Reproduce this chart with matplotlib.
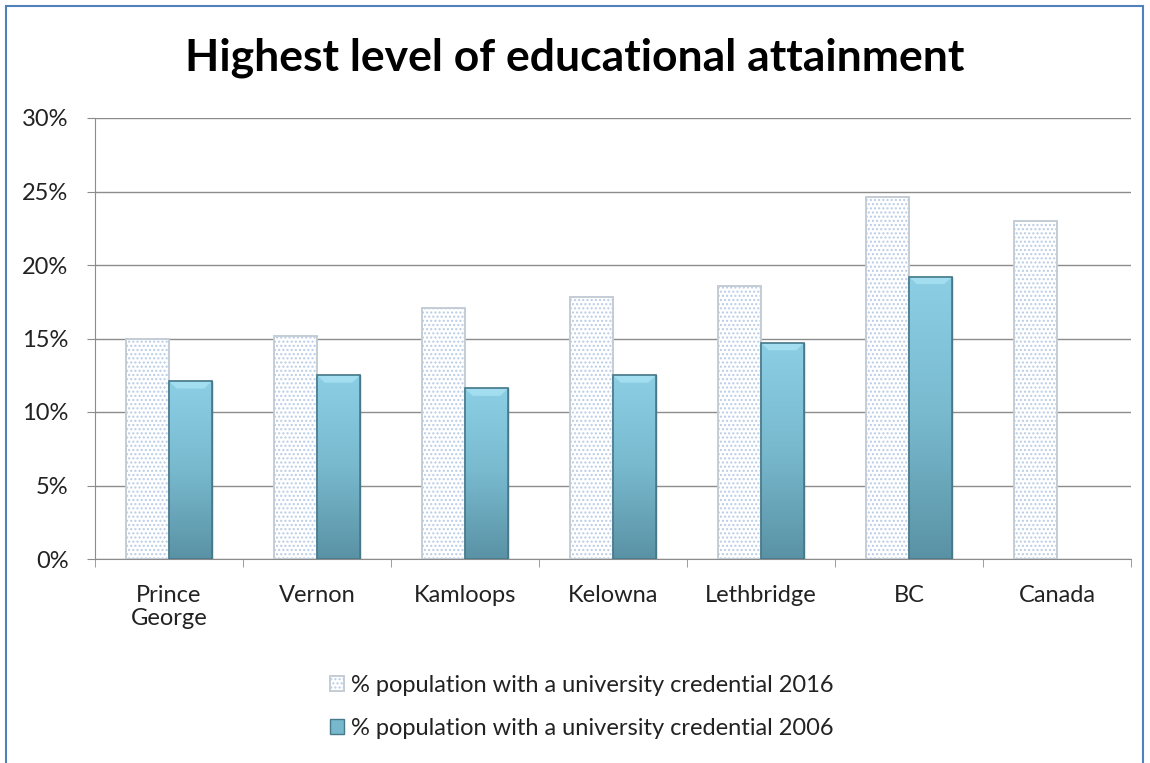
import numpy as np
import matplotlib.pyplot as plt
from matplotlib.patches import Rectangle
from matplotlib.colors import LinearSegmentedColormap

plt.rcParams['font.family'] = ['Lato', 'DejaVu Sans']

cities = ["Prince\nGeorge", "Vernon", "Kamloops", "Kelowna", "Lethbridge", "BC", "Canada"]
uni_2016 = [15.0, 15.2, 17.1, 17.8, 18.6, 24.6, 23.0]
uni_2006 = [12.1, 12.5, 11.6, 12.5, 14.7, 19.2, np.nan]
yticks = [0, 5, 10, 15, 20, 25, 30]

fig = plt.figure(figsize=(11.5, 7.63), dpi=100)
ax = fig.add_axes([95 / 1150, 1 - 559 / 763, 1036 / 1150, 441 / 763])

x = np.arange(len(cities))
w = 0.29

b16 = ax.bar(x - w / 2, uni_2016, w, color="white", edgecolor="#c4ccd6",
             hatch="....", linewidth=1.4, zorder=3,
             label="% population with a university credential 2016")
for b in b16:
    b._hatch_color = (0.72, 0.8, 0.9, 1.0)

b06 = ax.bar(x + w / 2, uni_2006, w, color="#78b8cc", edgecolor="#47798a",
             linewidth=1.0, zorder=3,
             label="% population with a university credential 2006")

# vertical gradient on the 2006 bars
cmap = LinearSegmentedColormap.from_list("g", ["#5a92a5", "#78b9ce", "#8ccfe5"])
grad = np.linspace(0, 1, 256).reshape(-1, 1)
for b in b06:
    h = b.get_height()
    if not np.isfinite(h) or h <= 0:
        continue
    x0 = b.get_x()
    bw = b.get_width()
    im = ax.imshow(grad, cmap=cmap, aspect="auto", origin="lower",
                   extent=[x0, x0 + bw, 0, h], zorder=3.5)
    im.set_clip_path(b)
    # bevel at top
    ax.add_patch(plt.Polygon([[x0, h], [x0 + bw, h],
                              [x0 + bw * 0.82, h - 0.5],
                              [x0 + bw * 0.18, h - 0.5]],
                             closed=True, color="#a3def0", zorder=3.6, lw=0))
    ax.add_patch(Rectangle((x0, 0), bw, h, fill=False,
                           edgecolor="#47798a", lw=1.2, zorder=3.7))

ax.set_xlim(-0.5, len(cities) - 0.5)
ax.set_ylim(0, 30)
ax.set_yticks(yticks)
ax.set_yticklabels([f"{t}%" for t in yticks])
ax.yaxis.grid(True, color="#8c8c8c", lw=1.0, zorder=0)
ax.set_axisbelow(True)

ax.set_xticks(x)
ax.set_xticklabels(cities, linespacing=1.1)
ax.set_xticks(np.arange(len(cities) + 1) - 0.5, minor=True)
ax.tick_params(axis="x", which="major", length=0, pad=19, labelsize=17)
ax.tick_params(axis="x", which="minor", length=6, color="#8c8c8c")
ax.tick_params(axis="y", length=6, color="#8c8c8c", labelsize=17, pad=13)
for lab in ax.get_yticklabels() + ax.get_xticklabels():
    lab.set_color("#222222")

for s in ["top", "right"]:
    ax.spines[s].set_visible(False)
ax.spines["left"].set_color("#8c8c8c")
ax.spines["bottom"].set_color("#8c8c8c")

fig.text(0.5, 1 - 58 / 763, "Highest level of educational attainment",
         ha="center", va="center", fontsize=32, fontweight="bold")

leg = fig.legend(handles=[b16, b06], loc="center", bbox_to_anchor=(582 / 1150, 1 - 707 / 763),
                 ncol=1, frameon=False, fontsize=17, handlelength=0.6, handleheight=0.6,
                 handletextpad=0.3, labelspacing=0.95)
for t in leg.get_texts():
    t.set_color("#222222")

fig.patches.append(Rectangle((6 / 1150, -0.05), 1137 / 1150, 1.05 - 6 / 763,
                             transform=fig.transFigure, fill=False,
                             edgecolor="#4f81bd", lw=1.5))

fig.savefig("out.png", dpi=100)
